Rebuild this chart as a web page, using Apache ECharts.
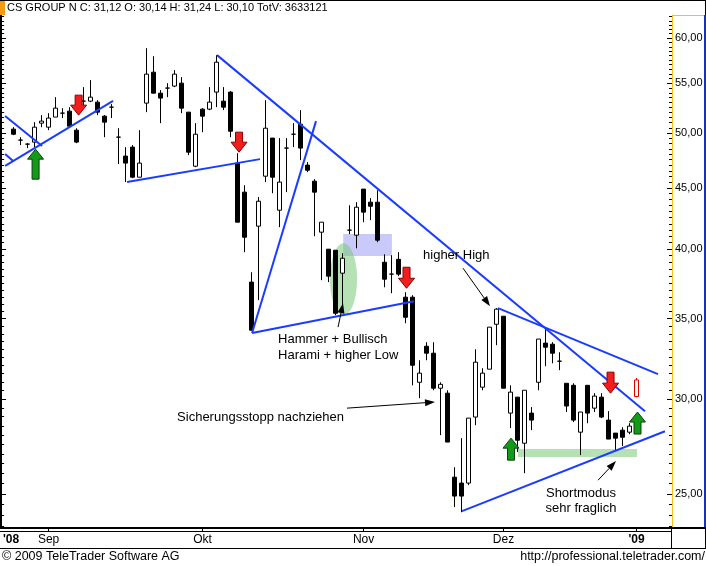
<!DOCTYPE html>
<html><head><meta charset="utf-8">
<script src="https://cdn.jsdelivr.net/npm/echarts@6/dist/echarts.min.js"></script>
<style>html,body{margin:0;padding:0;background:#fff}#c{width:706px;height:566px}</style>
</head><body><div id="c"></div>
<script>
// ---------------- data ----------------
const dates = [
'2008-08-25','2008-08-26','2008-08-27','2008-08-28','2008-08-29',
'2008-09-01','2008-09-02','2008-09-03','2008-09-04','2008-09-05','2008-09-08','2008-09-09','2008-09-10','2008-09-11','2008-09-12',
'2008-09-15','2008-09-16','2008-09-17','2008-09-18','2008-09-19','2008-09-22','2008-09-23','2008-09-24','2008-09-25','2008-09-26','2008-09-29','2008-09-30',
'2008-10-01','2008-10-02','2008-10-03','2008-10-06','2008-10-07','2008-10-08','2008-10-09','2008-10-10','2008-10-13','2008-10-14','2008-10-15','2008-10-16','2008-10-17',
'2008-10-20','2008-10-21','2008-10-22','2008-10-23','2008-10-24','2008-10-27','2008-10-28','2008-10-29','2008-10-30','2008-10-31',
'2008-11-03','2008-11-04','2008-11-05','2008-11-06','2008-11-07','2008-11-10','2008-11-11','2008-11-12','2008-11-13','2008-11-14',
'2008-11-17','2008-11-18','2008-11-19','2008-11-20','2008-11-21','2008-11-24','2008-11-25','2008-11-26','2008-11-27','2008-11-28',
'2008-12-01','2008-12-02','2008-12-03','2008-12-04','2008-12-05','2008-12-08','2008-12-09','2008-12-10','2008-12-11','2008-12-12',
'2008-12-15','2008-12-16','2008-12-17','2008-12-18','2008-12-19','2008-12-22','2008-12-23','2008-12-29','2008-12-30',
'2009-01-05'];
const opens = [50.37,49.32,48.94,49.13,50.95,50.56,51.55,51.94,52.14,50.27,53.15,53.15,53.05,51.64,52.54,49.60,47.83,48.66,45.93,52.95,
56.19,53.97,54.50,54.71,55.02,52.04,46.91,52.34,52.34,54.08,53.15,54.08,47.19,44.63,37.55,41.81,46.02,49.51,43.11,48.57,
49.88,50.85,47.01,45.58,41.33,40.00,39.92,38.20,41.49,41.09,44.89,43.78,43.78,39.01,38.13,39.23,36.48,36.48,30.98,33.20,
32.76,30.63,30.34,25.82,25.53,25.53,28.98,30.69,31.77,34.63,35.17,29.20,30.11,27.56,29.20,30.98,33.40,33.33,32.26,30.92,
30.80,28.15,30.80,29.48,30.11,28.81,28.10,28.26,28.15,30.14];
const closes = [49.88,49.32,48.94,50.56,51.15,51.45,52.44,51.94,50.66,49.13,53.15,53.56,52.04,51.05,52.54,49.60,47.19,45.93,47.19,55.98,
53.97,53.46,54.50,55.98,52.44,48.19,49.88,51.64,53.05,57.28,52.54,50.17,42.13,40.93,34.24,43.86,50.46,45.93,45.50,48.57,
49.88,48.57,46.55,44.63,42.13,37.98,35.37,39.31,41.49,43.36,42.95,43.44,40.70,37.76,38.13,38.13,35.10,32.01,31.53,32.76,
30.63,30.86,27.62,24.90,24.90,28.92,32.20,31.53,34.44,35.65,30.63,30.40,27.72,30.51,28.81,33.66,33.14,32.76,32.26,29.60,
28.81,29.26,29.20,30.17,28.98,27.78,27.83,27.88,28.48,31.12];
const lows = [49.79,48.85,48.57,48.66,50.56,50.27,51.55,51.45,50.56,49.03,52.74,53.05,51.74,49.60,51.45,47.10,45.50,45.84,45.93,52.04,
53.97,50.95,53.56,54.60,51.94,47.92,46.82,50.07,52.24,52.54,52.24,49.60,42.13,39.77,34.24,36.27,45.50,44.54,41.73,44.63,
48.66,47.46,46.38,41.01,37.69,37.55,35.24,35.44,41.17,40.07,42.13,42.29,40.54,37.18,36.76,37.98,34.70,30.80,30.05,32.32,
30.51,27.99,27.62,24.38,24.14,25.43,28.53,30.51,31.77,33.27,30.63,28.37,27.10,26.02,28.26,30.51,31.95,32.13,31.71,29.26,
28.70,26.94,28.64,29.26,28.92,27.78,27.15,27.41,28.04,30.10];
const highs = [50.56,49.60,49.03,51.05,51.74,51.94,53.56,52.44,52.54,50.46,54.60,55.34,53.25,51.74,52.85,50.46,48.66,48.85,50.27,58.84,
57.94,54.29,55.02,56.41,55.66,52.04,50.95,52.44,54.60,58.06,54.60,54.18,48.10,45.23,38.27,44.21,53.25,49.51,49.51,49.51,
50.95,52.24,47.28,45.76,42.13,40.00,39.92,39.69,43.52,43.78,44.89,44.12,44.80,39.61,39.54,39.77,36.83,36.62,32.32,33.46,
33.46,30.98,30.51,26.32,27.83,28.92,33.01,31.83,34.44,35.72,35.17,30.80,30.11,30.51,29.54,33.66,34.44,33.46,32.82,30.92,
30.92,29.26,30.80,30.34,30.34,29.31,28.10,28.42,28.64,31.24];
const lastVolume = 3633121;
const instrument = 'CS GROUP N';

const priceTicks = [25, 30, 35, 40, 45, 50, 55, 60];
const minorTickStep = 0.5;
const priceRange = [23.42, 62.71];
const monthLabels = {'2008-09-01':'Sep','2008-10-01':'Okt','2008-11-03':'Nov','2008-12-01':'Dez','2009-01-05':"'09"};
const yearLabel = "'08";

// annotations: x in candle slots (slot i = i-th trading day), y in price
const trendLines = [
  [[-0.21, 51.65], [5.07, 48.76]],
  [[-0.21, 48.02], [0.93, 47.38]],
  [[-0.21, 46.93], [15.21, 53.17]],
  [[17.21, 45.50], [36.21, 47.55]],
  [[30.07, 58.06], [91.21, 29.31]],
  [[35.07, 34.05], [44.21, 51.15]],
  [[35.07, 34.05], [58.21, 36.20]],
  [[70.21, 35.72], [93.07, 31.47]],
  [[65.07, 24.19], [94.07, 28.20]]
];
const sellSignals = [[10.29, 51.74], [33.21, 48.19], [57.14, 37.11], [86.29, 30.34]];
const buySignals = [[4.14, 48.47], [72.07, 27.83], [90.14, 29.26]];
const zones = [[48.09, 41.18, 55.05, 39.48], [73.07, 27.25, 90.07, 26.84]];
const ovals = [[46.21, 40.46, 50.07, 35.24]];
const pointers = [
  [[65.21, 38.57], [69.07, 35.85]],
  [[47.36, 34.44], [48.07, 36.06]],
  [[48.64, 29.48], [61.21, 29.83]],
  [[84.50, 25.67], [87.07, 26.63]]
];
const notes = [
  {text: 'higher High', at: [59.5, 39.54]},
  {text: 'Hammer + Bullisch', at: [38.79, 33.66]},
  {text: 'Harami + higher Low', at: [38.79, 32.63]},
  {text: 'Sicherungsstopp nachziehen', at: [24.36, 28.98]},
  {text: 'Shortmodus', at: [82.07, 25.04]},
  {text: 'sehr fraglich', at: [82.07, 24.33]}
];

// ---------------- styles ----------------
const FONT = "'Liberation Sans', Arial, sans-serif";
const BLUE = '#1a3cff';
const noteAlign = ['left', 'left', 'left', 'left', 'center', 'center'];
const sellLen = [20, 20, 21, 21];
const buyLen = [30, 22, 22];
const zoneFill = ['rgba(150,150,245,0.5)', 'rgba(120,200,120,0.55)'];

// ---------------- build ----------------
const L = Math.log;
const cats = ['pre'].concat(dates, ['post1', 'post2', 'post3', 'post4']);
const nSlots = cats.length;
const candleData = ['-'];
for (let i = 0; i < dates.length; i++) {
  const v = [L(opens[i]), L(closes[i]), L(lows[i]), L(highs[i])];
  if (i === dates.length - 1) {
    candleData.push({value: v, itemStyle: {color: '#fff', color0: '#fff', borderColor: '#e00000', borderColor0: '#e00000'}});
  } else candleData.push(v);
}
const majorVals = priceTicks.map(L);
const minorVals = [];
for (let t = Math.ceil(priceRange[0] / minorTickStep) * minorTickStep; t <= priceRange[1]; t += minorTickStep) minorVals.push(L(t));
const fmtNum = v => v.toFixed(2).replace('.', ',');

const yBase = {type: 'value', min: L(priceRange[0]), max: L(priceRange[1]), scale: true, splitLine: {show: false}, gridIndex: 0};
const yAxes = [
  Object.assign({}, yBase, {position: 'right', offset: 4,
    axisLine: {show: true, onZero: false, lineStyle: {color: '#f2c41a', width: 1}},
    axisTick: {show: true, inside: true, length: 3, customValues: minorVals, lineStyle: {color: '#000'}},
    axisLabel: {show: true, customValues: majorVals, margin: 3, color: '#000', fontSize: 11, fontFamily: FONT,
      formatter: v => fmtNum(Math.round(Math.exp(v)))}}),
  Object.assign({}, yBase, {position: 'right', offset: 4, axisLine: {show: false, onZero: false},
    axisTick: {show: true, inside: true, length: 5, customValues: majorVals, lineStyle: {color: '#000'}},
    axisLabel: {show: false}}),
  Object.assign({}, yBase, {position: 'left', offset: 2,
    axisLine: {show: true, onZero: false, lineStyle: {color: '#000', width: 2}},
    axisTick: {show: true, inside: true, length: 3, customValues: minorVals, lineStyle: {color: '#000'}},
    axisLabel: {show: false}}),
  Object.assign({}, yBase, {position: 'left', offset: 2, axisLine: {show: false, onZero: false},
    axisTick: {show: true, inside: true, length: 5, customValues: majorVals, lineStyle: {color: '#000'}},
    axisLabel: {show: false}})
];

const isLabelled = (idx, val) => idx === 0 || monthLabels[val] !== undefined;

const series = [];
// zones
series.push({type: 'custom', xAxisIndex: 1, yAxisIndex: 0, z: 1, silent: true,
  data: zones.map(z => [z[0], L(z[1]), z[2], L(z[3])]),
  renderItem: (params, api) => {
    const a = api.coord([api.value(0), api.value(1)]), b = api.coord([api.value(2), api.value(3)]);
    return {type: 'rect', shape: {x: Math.min(a[0], b[0]), y: Math.min(a[1], b[1]), width: Math.abs(b[0] - a[0]), height: Math.abs(b[1] - a[1])},
      style: {fill: zoneFill[params.dataIndex]}};
  }});
series.push({type: 'custom', xAxisIndex: 1, yAxisIndex: 0, z: 1, silent: true,
  data: ovals.map(z => [z[0], L(z[1]), z[2], L(z[3])]),
  renderItem: (params, api) => {
    const a = api.coord([api.value(0), api.value(1)]), b = api.coord([api.value(2), api.value(3)]);
    return {type: 'ellipse', shape: {cx: (a[0] + b[0]) / 2, cy: (a[1] + b[1]) / 2, rx: Math.abs(b[0] - a[0]) / 2, ry: Math.abs(b[1] - a[1]) / 2},
      style: {fill: 'rgba(120,200,120,0.55)'}};
  }});
// candles
series.push({type: 'candlestick', xAxisIndex: 0, yAxisIndex: 0, z: 2, barWidth: 5, data: candleData,
  itemStyle: {color: '#fff', color0: '#000', borderColor: '#000', borderColor0: '#000', borderWidth: 1}});
// trend lines
trendLines.forEach(tl => series.push({type: 'line', xAxisIndex: 1, yAxisIndex: 0, z: 3, silent: true, symbol: 'none',
  data: tl.map(p => [p[0], L(p[1])]), lineStyle: {color: BLUE, width: 2}}));
// signal arrows
function blockArrow(dir, fill, stroke, lens) {
  return (params, api) => {
    const p = api.coord([api.value(0), api.value(1)]);
    const len = lens[params.dataIndex], W = 16, S = 7, H = 10, s = dir;
    const x = p[0], y = p[1];
    const pts = [[x, y], [x - W / 2, y - s * H], [x - S / 2, y - s * H], [x - S / 2, y - s * len], [x + S / 2, y - s * len], [x + S / 2, y - s * H], [x + W / 2, y - s * H]];
    return {type: 'polygon', shape: {points: pts}, style: {fill: fill, stroke: stroke, lineWidth: 1}};
  };
}
series.push({type: 'custom', xAxisIndex: 1, yAxisIndex: 0, z: 4, silent: true,
  data: sellSignals.map(p => [p[0], L(p[1])]), renderItem: blockArrow(1, '#f21d1d', '#8a0000', sellLen)});
series.push({type: 'custom', xAxisIndex: 1, yAxisIndex: 0, z: 4, silent: true,
  data: buySignals.map(p => [p[0], L(p[1])]), renderItem: blockArrow(-1, '#139a18', '#0a400a', buyLen)});
// pointers
series.push({type: 'custom', xAxisIndex: 1, yAxisIndex: 0, z: 5, silent: true,
  data: pointers.map(pp => [pp[0][0], L(pp[0][1]), pp[1][0], L(pp[1][1])]),
  renderItem: (params, api) => {
    const a = api.coord([api.value(0), api.value(1)]), b = api.coord([api.value(2), api.value(3)]);
    const ang = Math.atan2(b[1] - a[1], b[0] - a[0]), c = Math.cos(ang), s = Math.sin(ang);
    const hl = 10, hw = 3.5;
    const bx = b[0] - hl * c, by = b[1] - hl * s;
    return {type: 'group', children: [
      {type: 'line', shape: {x1: a[0], y1: a[1], x2: bx, y2: by}, style: {stroke: '#000', lineWidth: 1}},
      {type: 'polygon', shape: {points: [[b[0], b[1]], [bx - hw * s, by + hw * c], [bx + hw * s, by - hw * c]]}, style: {fill: '#000'}}
    ]};
  }});
// notes
series.push({type: 'custom', xAxisIndex: 1, yAxisIndex: 0, z: 6, silent: true,
  data: notes.map(n => [n.at[0], L(n.at[1])]),
  renderItem: (params, api) => {
    const p = api.coord([api.value(0), api.value(1)]);
    return {type: 'text', x: p[0], y: p[1], style: {text: notes[params.dataIndex].text, fill: '#000',
      font: '13px ' + FONT, textAlign: noteAlign[params.dataIndex], textVerticalAlign: 'middle'}};
  }});

const n = dates.length - 1;
const titleText = instrument + ' C: ' + fmtNum(closes[n]) + ' O: ' + fmtNum(opens[n]) + ' H: ' + fmtNum(highs[n]) +
  ' L: ' + fmtNum(lows[n]) + ' TotV: ' + lastVolume;

const option = {
  animation: false,
  backgroundColor: '#fff',
  grid: {left: 3, top: 15, width: nSlots * 7, height: 513, containLabel: false},
  xAxis: [
    {type: 'category', data: cats, boundaryGap: true, position: 'bottom',
      axisLine: {show: false, onZero: false},
      axisTick: {show: true, alignWithLabel: true, length: 3, interval: (i, v) => monthLabels[v] !== undefined, lineStyle: {color: '#000'}},
      axisLabel: {show: true, margin: 6, color: '#000', fontSize: 12, fontFamily: FONT,
        interval: isLabelled,
        formatter: (v, i) => i === 0 ? '{y|' + yearLabel + '}' : (monthLabels[v] === "'09" ? '{b|' + monthLabels[v] + '}' : (monthLabels[v] || '')),
        rich: {y: {fontWeight: 'bold', fontSize: 12, fontFamily: FONT, color: '#000', padding: [0, 0, 0, 9]},
               b: {fontWeight: 'bold', fontSize: 12, fontFamily: FONT, color: '#000'}}},
      splitLine: {show: false}},
    {type: 'value', min: -0.5, max: nSlots - 0.5, show: false, gridIndex: 0, axisLine: {onZero: false}}
  ],
  yAxis: yAxes,
  series: series,
  graphic: [
    {type: 'rect', shape: {x: 0, y: 0, width: 5, height: 15}, style: {fill: '#f39c12'}, z: 10},
    {type: 'line', shape: {x1: 0, y1: 0.5, x2: 706, y2: 0.5}, style: {stroke: '#000', lineWidth: 1}, z: 10},
    {type: 'line', shape: {x1: 705.5, y1: 0, x2: 705.5, y2: 15}, style: {stroke: '#000', lineWidth: 1}, z: 10},
    {type: 'line', shape: {x1: 672, y1: 15.5, x2: 706, y2: 15.5}, style: {stroke: '#f2c41a', lineWidth: 1}, z: 10},
    {type: 'line', shape: {x1: 705, y1: 15, x2: 705, y2: 528}, style: {stroke: '#1430c8', lineWidth: 2}, z: 10},
    {type: 'line', shape: {x1: 0, y1: 528, x2: 706, y2: 528}, style: {stroke: '#000', lineWidth: 2}, z: 10},
    {type: 'line', shape: {x1: 0, y1: 531.5, x2: 672, y2: 531.5}, style: {stroke: '#000', lineWidth: 1}, z: 10},
    {type: 'line', shape: {x1: 0, y1: 548.5, x2: 706, y2: 548.5}, style: {stroke: '#000', lineWidth: 1}, z: 10},
    {type: 'line', shape: {x1: 671.5, y1: 528, x2: 671.5, y2: 548}, style: {stroke: '#000', lineWidth: 1}, z: 10},
    {type: 'line', shape: {x1: 705.5, y1: 528, x2: 705.5, y2: 548}, style: {stroke: '#000', lineWidth: 1}, z: 10},
    {type: 'text', x: 7, y: 8, style: {text: titleText, font: '11px ' + FONT, fill: '#000', textVerticalAlign: 'middle'}, z: 10},
    {type: 'text', x: 2, y: 557, style: {text: '\u00a9 2009 TeleTrader Software AG', font: '12.5px ' + FONT, fill: '#000', textVerticalAlign: 'middle'}, z: 10},
    {type: 'text', x: 705, y: 557, style: {text: 'http://professional.teletrader.com/', font: '12.5px ' + FONT, fill: '#000', textAlign: 'right', textVerticalAlign: 'middle'}, z: 10}
  ]
};
const chart = echarts.init(document.getElementById('c'));
chart.setOption(option);
</script>
</body></html>
